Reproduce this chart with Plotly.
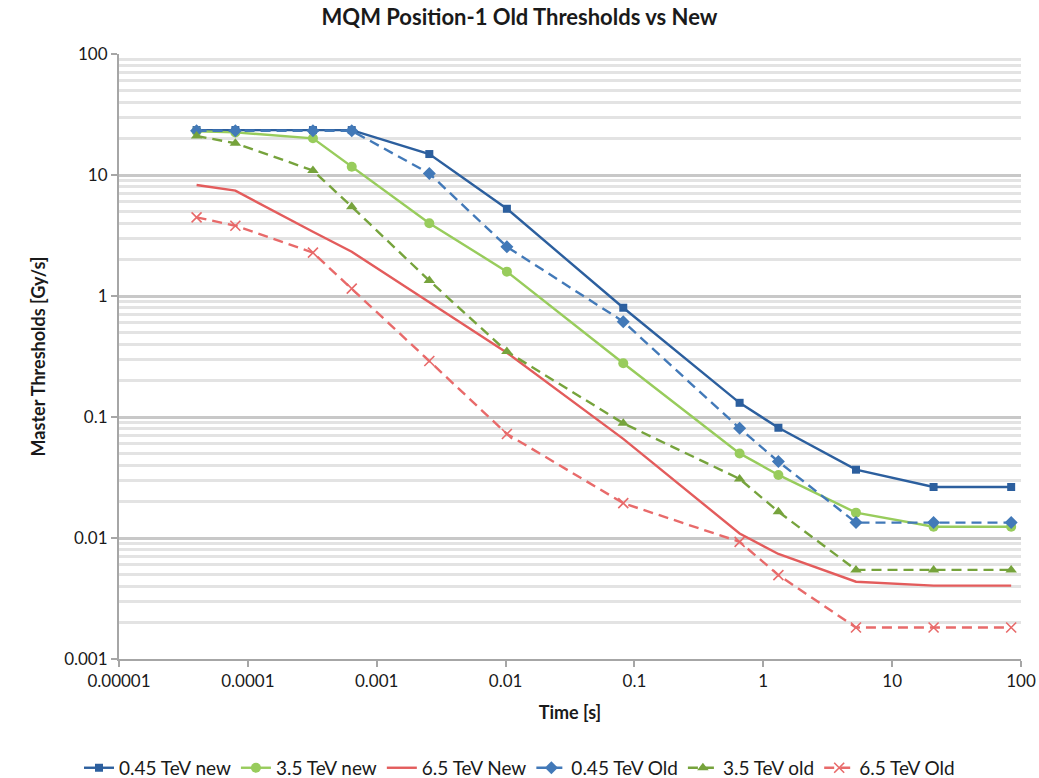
import plotly.graph_objects as go

time_s = [4e-5, 8e-5, 3.2e-4, 6.4e-4, 2.56e-3, 1.024e-2, 8.192e-2, 0.655, 1.31, 5.24, 20.97, 83.89]

new_045 = [23.5, 23.5, 23.5, 23.5, 14.9, 5.26, 0.80, 0.131, 0.0815, 0.0367, 0.0264, 0.0264]
new_35 = [23.0, 22.5, 20.1, 11.7, 3.99, 1.59, 0.278, 0.050, 0.0332, 0.0162, 0.0124, 0.0124]
new_65 = [8.26, 7.42, 3.40, 2.32, 0.887, 0.34, 0.066, 0.0109, 0.00738, 0.00435, 0.00404, 0.00404]
old_045 = [23.2, 23.2, 23.2, 23.2, 10.3, 2.55, 0.614, 0.0807, 0.0428, 0.0134, 0.0134, 0.0134]
old_35 = [21.0, 18.3, 10.9, 5.47, 1.34, 0.347, 0.0887, 0.0308, 0.0165, 0.00545, 0.00545, 0.00545]
old_65 = [4.47, 3.81, 2.28, 1.15, 0.290, 0.0724, 0.0194, 0.0093, 0.00494, 0.00182, 0.00182, 0.00182]

x_tickvals = [1e-5, 1e-4, 1e-3, 1e-2, 1e-1, 1, 10, 100]
x_ticktext = ["0.00001", "0.0001", "0.001", "0.01", "0.1", "1", "10", "100"]
y_tickvals = [0.001, 0.01, 0.1, 1, 10, 100]
y_ticktext = ["0.001", "0.01", "0.1", "1", "10", "100"]

FONT = "Lato, 'Open Sans', sans-serif"
DASH = "10px,6px"

series = [
    ("0.45 TeV new", new_045, "#2c5f9e", "solid", "square", 8),
    ("3.5 TeV new", new_35, "#98cc5c", "solid", "circle", 10),
    ("6.5 TeV New", new_65, "#e35c5c", "solid", None, 0),
    ("0.45 TeV Old", old_045, "#4279b8", DASH, "diamond", 10),
    ("3.5 TeV old", old_35, "#76a33c", DASH, "triangle-up", 10),
    ("6.5 TeV Old", old_65, "#e86a6a", DASH, "x-thin", 10),
]

fig = go.Figure()
for name, vals, color, dash, sym, size in series:
    if sym is None:
        fig.add_trace(go.Scatter(x=time_s, y=vals, name=name, mode="lines",
                                 line=dict(color=color, width=2.4, dash=dash)))
    else:
        marker = dict(symbol=sym, size=size, color=color)
        if sym == "x-thin":
            marker["line"] = dict(color=color, width=1.6)
        fig.add_trace(go.Scatter(x=time_s, y=vals, name=name, mode="lines+markers",
                                 line=dict(color=color, width=2.4, dash=dash),
                                 marker=marker))

fig.update_layout(
    width=1039, height=778,
    margin=dict(l=119, r=18, t=54, b=119, autoexpand=False),
    paper_bgcolor="white", plot_bgcolor="white",
    font=dict(family=FONT, size=17, color="#1a1a1a"),
    title=dict(text="<b>MQM Position-1 Old Thresholds vs New</b>", x=0.5, xanchor="center",
               y=0.988, yanchor="top", font=dict(family=FONT, size=22, color="#1a1a1a")),
    showlegend=True,
    legend=dict(orientation="h", xref="container", x=0.5, xanchor="center",
                y=-0.18, yanchor="middle",
                font=dict(family=FONT, size=19), itemwidth=30,
                traceorder="normal"),
)

fig.update_xaxes(
    type="log", range=[-5, 2],
    tickvals=x_tickvals, ticktext=x_ticktext,
    showgrid=False, zeroline=False,
    showline=True, linecolor="#a6a6a6", linewidth=2,
    ticks="outside", ticklen=6, tickwidth=2, tickcolor="#a6a6a6",
    tickfont=dict(family=FONT, size=17),
    title=dict(text="<b>Time [s]</b>", font=dict(family=FONT, size=18), standoff=16),
)

fig.update_yaxes(
    type="log", range=[-3, 2],
    tickvals=y_tickvals, ticktext=y_ticktext,
    showgrid=True, gridcolor="#c8c8c8", gridwidth=2.5,
    zeroline=False,
    showline=True, linecolor="#a6a6a6", linewidth=2,
    ticks="outside", ticklen=6, tickwidth=2, tickcolor="#a6a6a6",
    tickfont=dict(family=FONT, size=17),
    minor=dict(dtick="D1", showgrid=True, gridcolor="#e3e3e3", gridwidth=2.5, ticks=""),
    title=dict(text="<b>Master Thresholds [Gy/s]</b>", font=dict(family=FONT, size=18), standoff=14),
)

fig.write_html("out.html")
